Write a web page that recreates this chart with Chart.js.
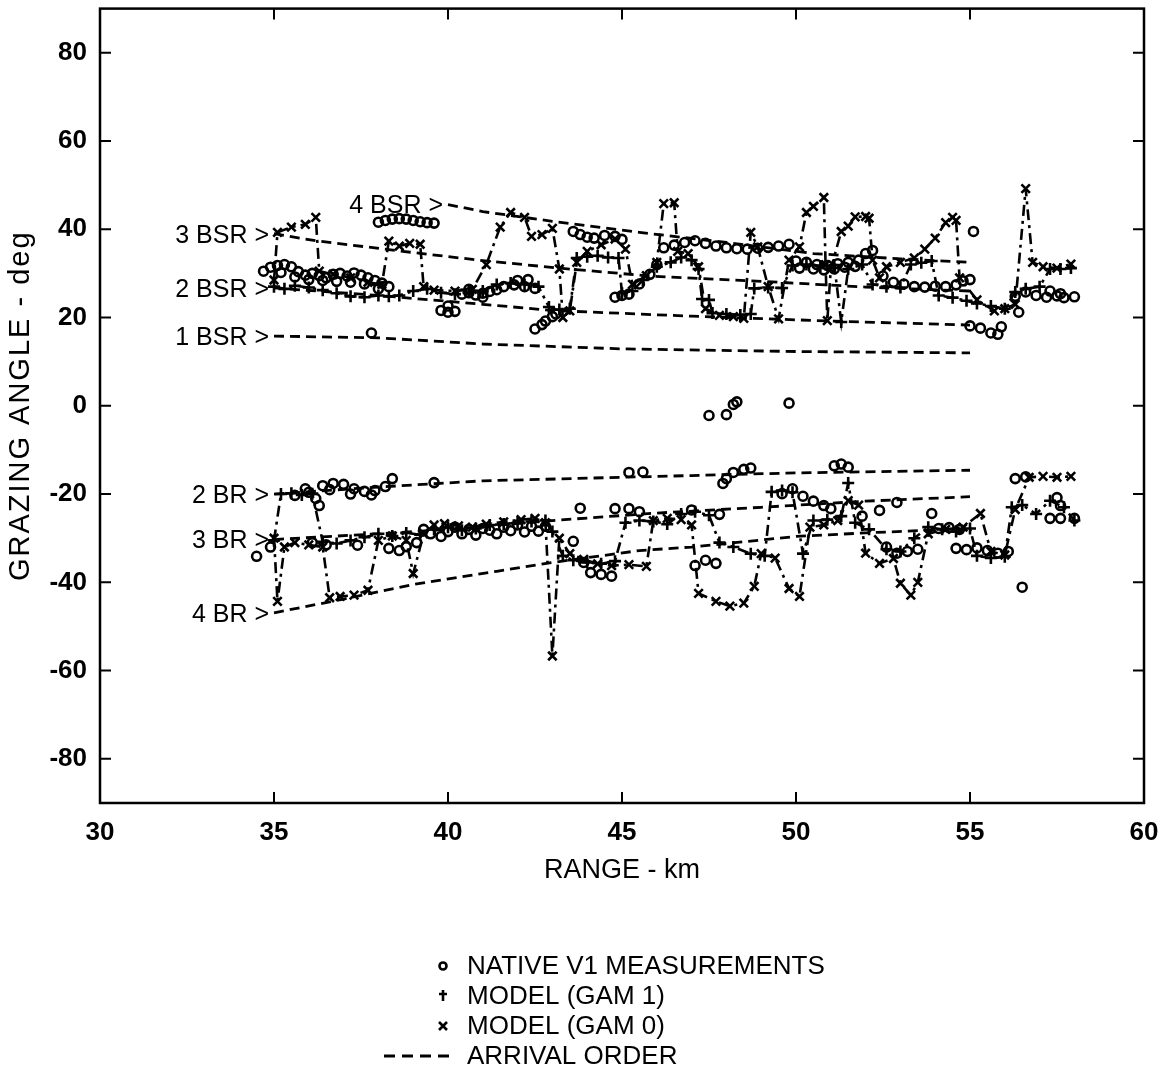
<!DOCTYPE html>
<html>
<head>
<meta charset="utf-8">
<script src="https://cdn.jsdelivr.net/npm/chart.js@4.4.1/dist/chart.umd.min.js"></script>
<style>
  html, body { margin: 0; padding: 0; background: #fff; }
</style>
</head>
<body>
<canvas id="chart" width="1164" height="1076"></canvas>
<script>
// axis ticks
const rangeTicks = [30, 35, 40, 45, 50, 55, 60];
const angleTicks = [-80, -60, -40, -20, 0, 20, 40, 60, 80];

// NATIVE V1 measurements [range km, grazing angle deg]
const nativeV1 = [
  [34.7,30.5],[34.9,31.4],[35.1,31.8],[35.3,32.0],[35.5,31.5],[35.7,30.4],[35.9,29.6],[36.1,30.0],[36.3,29.5],
  [36.5,29.0],[36.7,29.8],[36.9,30.0],[37.1,29.4],[37.3,30.1],[37.5,29.6],[37.7,29.0],[37.9,28.4],[38.1,27.8],
  [38.3,27.0],[35.2,30.2],[35.6,29.2],[36.0,28.6],[36.4,28.4],[36.8,28.2],[37.2,28.0],[37.6,27.6],[38.0,26.5],
  [37.8,16.5],
  [38.0,41.6],[38.2,42.0],[38.4,42.3],[38.6,42.4],[38.8,42.3],[39.0,42.0],[39.2,41.7],[39.4,41.5],[39.6,41.4],
  [39.8,21.6],[40.0,21.2],[40.2,21.4],[40.0,22.6],
  [40.4,25.3],[40.6,25.6],[40.8,25.1],[41.0,25.5],[41.2,25.9],[41.4,26.3],[41.6,27.0],[41.9,27.4],[42.2,27.0],[42.5,26.6],
  [40.6,26.4],[41.0,24.6],[42.0,28.4],[42.3,28.6],
  [42.5,17.4],[42.7,18.4],[42.8,19.2],[43.0,20.2],[43.1,20.8],
  [43.6,39.5],[43.8,38.8],[44.0,38.2],[44.2,38.0],[44.5,38.6],[44.8,38.4],[45.0,37.7],
  [44.8,24.6],[45.0,25.0],[45.2,25.3],[45.5,27.6],[45.8,29.8],[46.0,32.0],
  [46.2,35.8],[46.5,36.4],[46.8,37.0],[47.1,37.4],[47.4,36.8],[47.7,36.2],[48.0,35.8],[48.3,35.6],[48.6,35.5],
  [48.9,35.7],[49.2,35.9],[49.5,36.2],[49.8,36.6],
  [50.0,32.8],[50.3,32.5],[50.6,32.0],[50.9,31.8],[51.2,32.2],[51.5,32.5],[51.8,33.0],[52.0,34.5],[52.2,35.2],
  [50.1,31.2],[50.5,31.0],[50.8,30.8],[51.1,31.0],[51.4,31.4],[51.7,31.6],
  [52.5,29.4],[52.8,28.0],[53.1,27.6],[53.4,27.0],[53.7,26.9],[54.0,27.1],[54.3,27.0],[54.6,27.4],[54.8,28.3],[55.0,28.6],
  [55.1,39.5],
  [55.0,18.1],[55.3,17.6],[55.6,16.5],[55.8,16.2],[55.9,17.9],
  [56.4,21.2],
  [56.3,24.8],[56.6,25.8],[56.9,25.0],[57.2,24.6],[57.5,24.9],[57.7,24.5],[58.0,24.7],[57.3,26.0],[57.6,25.4],
  [47.5,-2.2],[48.0,-2.0],[48.2,0.3],[48.3,0.9],[49.8,0.6],
  [35.6,-20.3],[35.9,-18.8],[36.2,-21.0],[36.3,-22.6],[36.4,-18.1],[36.7,-17.6],[37.0,-17.8],[37.3,-18.8],
  [37.6,-19.4],[37.9,-19.2],[38.2,-18.3],[38.4,-16.5],[39.6,-17.4],
  [36.0,-19.6],[36.6,-19.0],[37.2,-20.0],[37.8,-20.2],
  [45.2,-15.1],[45.6,-15.0],[48.0,-16.5],[48.2,-15.1],[48.5,-14.4],[48.7,-14.1],[47.9,-17.6],[51.1,-13.6],
  [51.3,-13.2],[51.5,-13.9],
  [34.5,-34.1],[34.9,-32.0],[36.1,-31.0],[36.5,-31.5],[37.4,-31.6],[38.3,-32.3],[38.6,-32.8],[38.8,-31.9],
  [39.1,-31.0],[39.5,-29.0],[40.0,-28.5],[40.4,-29.0],[40.8,-29.3],[41.2,-28.2],[41.6,-27.5],[42.0,-27.0],
  [42.4,-27.3],[42.8,-27.3],
  [39.3,-28.0],[39.8,-29.6],[40.2,-27.5],[40.6,-28.0],[41.0,-27.8],[41.4,-29.0],[41.8,-28.3],[42.2,-28.6],[42.6,-28.4],
  [43.8,-23.2],[43.6,-30.7],
  [43.9,-35.5],[44.1,-37.8],[44.4,-38.2],[44.7,-38.6],
  [44.8,-23.3],[45.2,-23.3],[45.5,-24.0],
  [47.0,-23.6],[47.8,-24.6],
  [47.1,-36.2],[47.4,-35.0],[47.7,-35.7],
  [49.6,-19.9],[49.9,-18.8],[50.2,-20.5],[50.5,-21.6],[50.8,-22.6],[51.0,-23.3],
  [51.9,-25.0],[52.4,-23.7],[52.9,-21.9],
  [52.6,-32.0],[52.9,-33.4],[53.2,-33.0],[53.5,-32.5],
  [53.9,-24.4],[54.1,-27.8],[54.4,-27.6],[54.7,-28.0],
  [54.6,-32.3],[54.9,-32.6],[55.2,-32.2],[55.5,-32.8],[55.8,-33.4],[56.1,-33.0],
  [56.3,-16.5],[56.6,-16.1],
  [56.5,-41.1],
  [57.5,-20.8],[57.6,-22.6],
  [57.3,-25.5],[57.6,-25.5],[58.0,-25.5]
];

// MODEL (GAM 1), surface-reflected branch and bottom-reflected branch
const gam1Upper = [
  [35.0,27.0],[35.3,26.5],[35.6,27.2],[36.0,26.8],[36.4,26.2],[36.8,25.5],[37.2,24.8],[37.6,24.6],[38.0,25.0],
  [38.3,24.8],[38.6,25.0],[39.0,26.0],[39.4,26.5],[39.8,25.6],[40.2,25.3],[40.6,25.8],[41.0,26.0],[41.4,27.5],
  [41.8,27.8],[42.2,27.5],[42.6,27.0],[42.9,22.4],[43.2,21.8],[43.5,22.0],[43.7,33.5],[44.0,33.8],[44.3,34.0],
  [44.6,33.6],[44.9,33.5],[45.0,25.5],[45.3,26.0],[45.6,28.5],[46.0,31.5],[46.4,32.5],[46.7,33.6],[47.0,33.0],
  [47.2,31.0],[47.3,24.2],[47.5,24.0],[47.6,21.0],[48.0,20.8],[48.4,20.6],[48.7,20.8],[48.8,26.6],[49.2,26.8],
  [49.6,26.7],[49.9,31.8],[50.3,32.0],[50.7,31.7],[51.1,31.9],[51.3,19.0],[51.5,31.0],[51.9,32.0],[52.2,27.5],
  [52.6,27.0],[53.0,26.8],[53.3,32.0],[53.6,32.4],[53.9,32.8],[54.1,25.0],[54.5,24.5],[54.9,23.8],[55.2,23.2],
  [55.6,22.6],[56.0,22.0],[56.3,25.8],[56.6,26.5],[57.0,27.0],[57.3,31.0],[57.6,31.0],[57.9,31.2]
];
const gam1Lower = [
  [35.0,-30.5],[35.2,-20.0],[35.5,-19.8],[35.8,-20.2],[36.1,-19.9],[36.4,-30.8],[36.8,-31.2],[37.2,-30.5],
  [37.6,-29.8],[38.0,-29.0],[38.4,-29.5],[38.8,-28.8],[39.2,-29.2],[39.6,-28.0],[40.0,-27.5],[40.4,-28.2],
  [40.8,-27.8],[41.2,-27.0],[41.6,-26.8],[42.0,-26.5],[42.4,-26.2],[42.8,-26.0],[43.0,-28.5],[43.3,-34.0],
  [43.6,-35.0],[44.0,-35.5],[44.4,-35.8],[44.8,-35.2],[45.1,-26.5],[45.5,-26.0],[45.9,-26.2],[46.3,-26.8],
  [46.7,-24.5],[47.1,-24.0],[47.5,-24.8],[47.8,-31.0],[48.2,-32.0],[48.7,-33.5],[49.1,-34.0],[49.3,-19.5],
  [49.6,-19.2],[49.9,-19.6],[50.2,-33.5],[50.5,-26.0],[50.9,-25.8],[51.3,-25.0],[51.5,-17.5],[51.7,-26.5],
  [52.1,-28.0],[52.6,-32.5],[53.0,-33.0],[53.4,-30.0],[53.8,-27.5],[54.2,-28.0],[54.6,-28.5],[55.0,-27.8],
  [55.2,-34.0],[55.6,-34.5],[56.0,-34.2],[56.2,-23.0],[56.5,-22.5],[56.9,-24.5],[57.3,-21.5],[57.7,-23.0],[58.0,-26.0]
];

// MODEL (GAM 0)
const gam0Upper = [
  [35.0,28.5],[35.1,39.3],[35.5,40.5],[35.9,41.1],[36.2,42.7],[36.3,30.5],[36.7,29.8],[37.2,29.0],[37.7,28.0],
  [38.1,27.5],[38.3,37.3],[38.6,36.2],[38.9,36.8],[39.2,36.6],[39.3,27.0],[39.6,26.2],[40.2,26.0],[40.7,26.4],
  [41.1,32.0],[41.5,40.5],[41.8,43.8],[42.2,42.7],[42.4,38.4],[42.7,38.8],[43.0,40.2],[43.2,31.0],[43.3,20.0],
  [43.5,21.5],[43.7,32.5],[44.0,35.0],[44.4,36.5],[44.8,37.8],[45.1,35.5],[45.3,27.5],[45.7,29.5],[46.0,32.5],
  [46.2,45.8],[46.5,46.0],[46.6,35.0],[46.9,34.5],[47.2,31.5],[47.4,22.0],[47.8,20.5],[48.2,20.2],[48.5,19.8],
  [48.7,39.3],[48.9,36.0],[49.2,27.0],[49.5,19.7],[49.8,33.0],[50.1,36.0],[50.3,43.8],[50.5,45.2],[50.8,47.2],
  [50.85,32.0],[50.9,19.3],[51.0,31.0],[51.3,39.5],[51.5,40.7],[51.7,42.8],[52.0,42.9],[52.1,42.5],[52.2,33.0],
  [52.4,29.0],[52.6,31.5],[53.0,32.5],[53.4,33.5],[53.7,35.5],[54.0,38.0],[54.3,41.5],[54.5,42.7],[54.6,42.0],
  [54.7,29.0],[55.2,24.0],[55.7,21.5],[56.0,22.0],[56.3,23.0],[56.6,49.2],[56.8,32.5],[57.1,31.5],[57.5,31.2],[57.9,32.1]
];
const gam0Lower = [
  [35.0,-30.0],[35.1,-44.3],[35.3,-32.0],[35.6,-31.0],[36.0,-31.5],[36.4,-32.0],[36.6,-43.5],[36.9,-43.2],
  [37.3,-42.9],[37.7,-41.8],[38.0,-30.5],[38.4,-29.5],[38.8,-30.5],[39.0,-38.0],[39.3,-29.0],[39.6,-27.0],
  [39.9,-26.7],[40.3,-27.2],[40.7,-27.5],[41.1,-26.8],[41.6,-26.3],[42.1,-25.8],[42.5,-25.5],[42.8,-26.5],
  [43.0,-56.7],[43.2,-30.0],[43.5,-33.5],[43.9,-34.8],[44.3,-35.8],[44.7,-36.2],[45.2,-36.0],[45.7,-36.4],
  [45.9,-26.0],[46.3,-25.5],[46.7,-25.8],[47.0,-27.0],[47.2,-42.5],[47.7,-44.3],[48.1,-45.4],[48.5,-44.7],
  [48.8,-40.9],[49.0,-33.5],[49.4,-34.5],[49.8,-41.4],[50.1,-43.2],[50.4,-27.5],[50.8,-27.0],[51.2,-26.0],
  [51.5,-21.5],[51.8,-22.5],[52.0,-33.4],[52.4,-35.7],[52.8,-34.6],[53.0,-40.2],[53.3,-42.9],[53.5,-40.0],
  [53.8,-29.0],[54.3,-28.0],[54.8,-27.5],[55.3,-24.4],[55.6,-33.0],[56.0,-33.8],[56.3,-23.5],[56.7,-16.2],
  [57.1,-16.0],[57.5,-16.2],[57.9,-16.0]
];

// ARRIVAL ORDER curves
const arrivalNames = ['4 BSR >', '3 BSR >', '2 BSR >', '1 BSR >', '2 BR >', '3 BR >', '4 BR >'];
const arrival4BSR = [[40.0,45.6],[41,44.0],[43,41.8],[45.5,39.3],[48,37.0],[50.5,34.5],[53,33.3],[55,32.5]];
const arrival3BSR = [[35.0,39.0],[36.2,37.4],[38.7,35.0],[41,32.9],[43.2,31.2],[45.8,29.4],[49.5,28.0],[52,26.9],[55,26.0]];
const arrival2BSR = [[35.0,26.7],[38,25.0],[41,23.0],[43,21.6],[47,20.3],[51,19.2],[55,18.3]];
const arrival1BSR = [[35.0,15.8],[38,15.4],[41,14.0],[45,12.9],[50,12.3],[55,12.0]];
const arrival2BR = [[35.0,-20.0],[38,-18.4],[41,-17.0],[44,-16.4],[47,-15.8],[50,-15.2],[55,-14.6]];
const arrival3BR = [[35.0,-30.3],[38,-29.0],[40,-28.0],[43,-26.0],[46,-24.3],[49,-23.0],[52,-21.6],[55,-20.6]];
const arrival4BR = [[35.0,-46.9],[37,-43.8],[39,-40.5],[41.4,-37.5],[43,-35.5],[45.5,-32.8],[47,-32.0],[50,-29.6],[52,-28.8],[55,-27.8]];
const arrivals = [arrival4BSR, arrival3BSR, arrival2BSR, arrival1BSR, arrival2BR, arrival3BR, arrival4BR];

const legendNames = ['NATIVE V1 MEASUREMENTS', 'MODEL (GAM 1)', 'MODEL (GAM 0)', 'ARRIVAL ORDER'];
const yTitle = 'GRAZING ANGLE - deg';

const FONT = "'Liberation Sans', Arial, Helvetica, sans-serif";
const toXY = arr => arr.map(([x, y]) => ({ x, y }));
const dashDot = [11, 5, 3, 5];

function modelSet(data, style) {
  return {
    data: toXY(data),
    showLine: true,
    borderColor: '#000',
    backgroundColor: '#000',
    borderWidth: 2.6,
    borderDash: dashDot,
    pointStyle: style,
    pointRadius: 6,
    pointBorderWidth: 2.6,
    pointHoverRadius: 6
  };
}

const datasets = [
  ...arrivals.map(a => ({
    data: toXY(a),
    showLine: true,
    borderColor: '#000',
    borderWidth: 2.8,
    borderDash: [10, 6],
    pointRadius: 0,
    pointHoverRadius: 0
  })),
  modelSet(gam1Upper, 'cross'),
  modelSet(gam1Lower, 'cross'),
  modelSet(gam0Upper, 'crossRot'),
  modelSet(gam0Lower, 'crossRot'),
  {
    data: toXY(nativeV1),
    showLine: false,
    borderColor: '#000',
    backgroundColor: 'rgba(0,0,0,0)',
    pointStyle: 'circle',
    pointRadius: 4.5,
    pointBorderWidth: 2.6,
    pointHoverRadius: 4.5
  }
];

// box with inward ticks on all four sides
const framePlugin = {
  id: 'frame',
  afterDatasetsDraw(chart) {
    const { ctx, chartArea: a, scales: { x, y } } = chart;
    ctx.save();
    ctx.strokeStyle = '#000';
    ctx.lineWidth = 2.5;
    ctx.strokeRect(a.left, a.top, a.right - a.left, a.bottom - a.top);
    ctx.lineWidth = 2;
    ctx.beginPath();
    x.ticks.forEach(t => {
      const px = x.getPixelForValue(t.value);
      ctx.moveTo(px, a.bottom); ctx.lineTo(px, a.bottom - 11);
      ctx.moveTo(px, a.top); ctx.lineTo(px, a.top + 11);
    });
    y.ticks.forEach(t => {
      const py = y.getPixelForValue(t.value);
      ctx.moveTo(a.left, py); ctx.lineTo(a.left + 11, py);
      ctx.moveTo(a.right, py); ctx.lineTo(a.right - 11, py);
    });
    ctx.stroke();

    // y axis title
    ctx.fillStyle = '#000';
    ctx.font = '29px ' + FONT;
    ctx.letterSpacing = '2px';
    ctx.textAlign = 'center';
    ctx.textBaseline = 'middle';
    ctx.translate(21, (a.top + a.bottom) / 2);
    ctx.rotate(-Math.PI / 2);
    ctx.fillText(yTitle, 0, 0);
    ctx.restore();
  }
};

// "n BSR >" / "n BR >" labels at the start of each arrival curve
const arrivalLabelPlugin = {
  id: 'arrivalLabels',
  afterDatasetsDraw(chart) {
    const { ctx, scales: { x, y } } = chart;
    ctx.save();
    ctx.font = '25px ' + FONT;
    ctx.fillStyle = '#000';
    ctx.textAlign = 'right';
    ctx.textBaseline = 'middle';
    arrivals.forEach((a, i) => {
      const px = x.getPixelForValue(a[0][0]) - 5;
      const py = y.getPixelForValue(a[0][1]) + 2;
      ctx.fillText(arrivalNames[i], px, py);
    });
    ctx.restore();
  }
};

// stacked legend under the chart
const legendPlugin = {
  id: 'stackLegend',
  afterDraw(chart) {
    const { ctx } = chart;
    const mx = 443, tx = 467, y0 = 966, dy = 30;
    ctx.save();
    ctx.font = '26px ' + FONT;
    ctx.fillStyle = '#000';
    ctx.strokeStyle = '#000';
    ctx.textAlign = 'left';
    ctx.textBaseline = 'middle';
    legendNames.forEach((name, i) => {
      const yy = y0 + i * dy;
      ctx.fillText(name, tx, yy + 1);
      ctx.lineWidth = 2.6;
      ctx.beginPath();
      if (i === 0) {
        ctx.arc(mx, yy, 3.5, 0, Math.PI * 2);
      } else if (i === 1) {
        ctx.moveTo(mx - 4, yy - 2); ctx.lineTo(mx + 4, yy - 2);
        ctx.moveTo(mx, yy - 6); ctx.lineTo(mx, yy + 5);
      } else if (i === 2) {
        ctx.moveTo(mx - 4, yy - 4); ctx.lineTo(mx + 4, yy + 4);
        ctx.moveTo(mx + 4, yy - 4); ctx.lineTo(mx - 4, yy + 4);
      } else {
        ctx.lineWidth = 2.8;
        ctx.setLineDash([11, 7]);
        ctx.moveTo(384, yy); ctx.lineTo(456, yy);
      }
      ctx.stroke();
      ctx.setLineDash([]);
    });
    ctx.restore();
  }
};

const noPad = s => { s.paddingTop = 0; s.paddingBottom = 0; s.paddingLeft = 0; s.paddingRight = 0; };

new Chart(document.getElementById('chart'), {
  type: 'scatter',
  data: { datasets },
  plugins: [framePlugin, arrivalLabelPlugin, legendPlugin],
  options: {
    responsive: false,
    animation: false,
    devicePixelRatio: 1,
    layout: { padding: { left: 0, right: 20, top: 8, bottom: 183 } },
    plugins: { legend: { display: false }, tooltip: { enabled: false } },
    scales: {
      x: {
        type: 'linear',
        min: 30, max: 60,
        afterBuildTicks: s => { s.ticks = rangeTicks.map(v => ({ value: v })); },
        afterFit: s => { s.height = 90; noPad(s); },
        grid: { display: false, drawTicks: false },
        border: { display: false },
        ticks: { padding: 14, color: '#000', font: { family: FONT, size: 26, weight: 'bold' } },
        title: { display: true, text: 'RANGE - km', color: '#000', padding: { top: 0, bottom: 6 }, font: { family: FONT, size: 27 } }
      },
      y: {
        type: 'linear',
        min: -90, max: 90,
        afterBuildTicks: s => { s.ticks = angleTicks.map(v => ({ value: v })); },
        afterFit: s => { s.width = 100; noPad(s); },
        grid: { display: false, drawTicks: false },
        border: { display: false },
        ticks: { padding: 13, color: '#000', font: { family: FONT, size: 26, weight: 'bold' } },
        title: { display: false }
      }
    }
  }
});
</script>
</body>
</html>
